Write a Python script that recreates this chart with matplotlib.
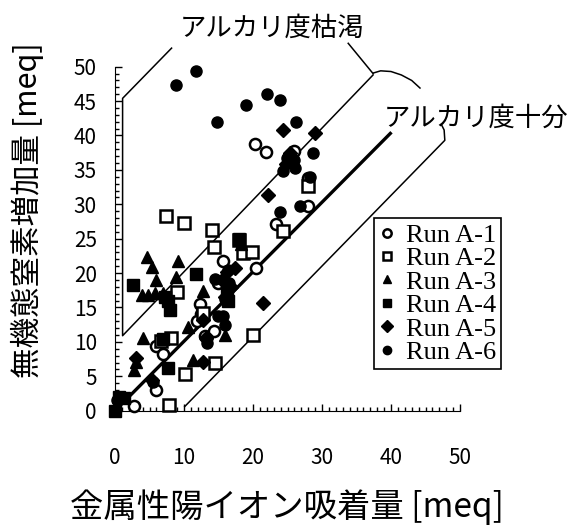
import matplotlib
matplotlib.use("Agg")
import matplotlib.pyplot as plt
from matplotlib.ticker import MultipleLocator

plt.rcParams['font.family'] = ['Noto Sans CJK JP', 'DejaVu Sans']

# data (x: metal cation adsorption, y: inorganic N increase) [meq]
a1_x = [20.3, 21.9, 26.0, 28.0, 28.0, 23.4, 15.6, 20.4, 12.3, 12.5, 11.9, 13.0, 14.3, 5.9, 6.9, 5.9, 2.8, 14.9]
a1_y = [38.7, 37.6, 37.8, 29.8, 33.8, 27.1, 21.8, 20.8, 15.5, 14.1, 13.1, 10.9, 11.6, 9.4, 8.3, 3.0, 0.7, 18.5]

a2_x = [7.4, 10.0, 14.0, 14.3, 18.0, 18.5, 19.8, 9.0, 8.1, 10.1, 14.5, 20.0, 7.8, 12.7, 24.3, 28.0, 6.6]
a2_y = [28.3, 27.3, 26.3, 23.8, 24.8, 22.9, 23.1, 17.3, 10.6, 5.3, 7.0, 11.0, 0.8, 14.2, 26.1, 32.7, 10.2]

a3_x = [4.7, 5.3, 9.2, 5.9, 8.8, 3.9, 4.8, 5.8, 7.0, 12.8, 10.6, 4.0, 3.1, 2.7, 11.3, 15.9, 18.2]
a3_y = [22.3, 20.9, 21.8, 19.0, 19.4, 16.8, 16.8, 17.1, 17.1, 17.4, 12.2, 10.5, 7.1, 5.9, 7.4, 11.0, 24.3]

a4_x = [2.6, 11.7, 8.0, 7.7, 7.0, 7.7, 0.6, 1.3, 0.0, 17.9, 16.2, 16.4, 7.2]
a4_y = [18.3, 19.9, 14.6, 16.0, 10.4, 6.2, 2.0, 1.8, 0.0, 24.9, 17.5, 16.0, 16.5]

a5_x = [24.3, 29.0, 22.2, 25.3, 24.8, 21.5, 12.8, 5.3, 16.2, 17.4, 15.5, 12.8, 13.2, 3.1, 16.0, 16.8]
a5_y = [40.8, 40.3, 31.3, 37.4, 35.8, 15.6, 7.1, 4.5, 20.2, 20.7, 19.0, 13.2, 10.5, 7.6, 16.5, 18.0]

a6_x = [8.8, 11.8, 14.8, 19.0, 22.1, 23.9, 26.2, 28.7, 28.3, 23.9, 26.8, 24.9, 25.9, 24.4, 26.1,
        14.5, 16.4, 15.7, 15.9, 13.3, 14.9, 5.5, 0.3, 16.0, 16.5, 13.4]
a6_y = [47.4, 49.4, 41.9, 44.5, 46.1, 45.2, 42.0, 37.4, 34.0, 28.9, 29.7, 36.7, 36.4, 34.9, 35.3,
        19.2, 20.4, 13.7, 12.5, 9.8, 13.7, 4.2, 1.5, 16.2, 18.5, 10.6]

labels = ['Run A-1', 'Run A-2', 'Run A-3', 'Run A-4', 'Run A-5', 'Run A-6']

# guide lines (data coords)
upper_x = [8.2, 1.1, 1.1, 37.4]
upper_y = [52.7, 45.4, 10.9, 48.8]
lead1_x = [33.8, 37.4]
lead1_y = [53.4, 49.0]
arc_x = [37.5, 38.5, 40.0, 41.5, 43.0, 44.2]
arc_y = [49.1, 49.4, 49.3, 48.8, 48.0, 46.9]
mid_x = [1.0, 39.9]
mid_y = [1.0, 40.3]
lower_x = [10.1, 47.8, 47.7, 47.3]
lower_y = [0.6, 39.3, 40.8, 41.6]

W, H = 573, 525
fig = plt.figure(figsize=(W / 100, H / 100), dpi=100)
ax = fig.add_axes([115 / W, 1 - 410.7 / H, 345 / W, 344 / H])

ms = 8
series = [
    (a1_x, a1_y, dict(marker='o', mfc='white', mec='black', mew=1.8)),
    (a2_x, a2_y, dict(marker='s', mfc='white', mec='black', mew=1.8)),
    (a3_x, a3_y, dict(marker='^', mfc='black', mec='black')),
    (a4_x, a4_y, dict(marker='s', mfc='black', mec='black')),
    (a5_x, a5_y, dict(marker='D', mfc='black', mec='black', ms=7)),
    (a6_x, a6_y, dict(marker='o', mfc='black', mec='black')),
]
for (xs, ys, st), lab in zip(series, labels):
    kw = dict(ms=ms)
    kw.update(st)
    ax.plot(xs, ys, linestyle='none', label=lab, clip_on=False, zorder=3, **kw)

ax.plot(upper_x, upper_y, color='black', lw=1.1, clip_on=False)
ax.plot(lead1_x, lead1_y, color='black', lw=1.1, clip_on=False)
ax.plot(arc_x, arc_y, color='black', lw=1.1, clip_on=False)
ax.plot(mid_x, mid_y, color='black', lw=2.4, clip_on=False)
ax.plot(lower_x, lower_y, color='black', lw=1.1, clip_on=False)

ax.set_xlim(0, 50)
ax.set_ylim(0, 50)
ax.spines['top'].set_visible(False)
ax.spines['right'].set_visible(False)
ax.xaxis.set_major_locator(MultipleLocator(10))
ax.xaxis.set_minor_locator(MultipleLocator(1))
ax.yaxis.set_major_locator(MultipleLocator(5))
ax.yaxis.set_minor_locator(MultipleLocator(1))
ax.tick_params(which='both', direction='in', width=1)
ax.tick_params(which='major', length=5)
ax.tick_params(which='minor', length=3)
ax.tick_params(axis='x', which='major', pad=26, labelsize=15)
ax.tick_params(axis='y', which='major', pad=13, labelsize=15)

fig.text(287 / W, 1 - 507 / H, '金属性陽イオン吸着量 [meq]', ha='center', va='center', fontsize=24)
fig.text(27 / W, 1 - 210 / H, '無機態窒素増加量 [meq]', ha='center', va='center',
         rotation=90, fontsize=22)
fig.text(272 / W, 1 - 28 / H, 'アルカリ度枯渇', ha='center', va='center', fontsize=19)
fig.text(476 / W, 1 - 118 / H, 'アルカリ度十分', ha='center', va='center', fontsize=19)

leg = ax.legend(loc='upper left', bbox_to_anchor=(374 / W, 1 - 218 / H),
                bbox_transform=fig.transFigure, prop={'family': 'Liberation Serif', 'size': 19},
                frameon=True, fancybox=False, edgecolor='black', framealpha=1,
                labelspacing=0.0, handlelength=0.6, handletextpad=0.4, borderpad=0.2,
                borderaxespad=0)
leg.get_frame().set_linewidth(1.2)
for h in leg.legend_handles:
    h.set_markersize(6)

fig.savefig('out.png', dpi=100)
